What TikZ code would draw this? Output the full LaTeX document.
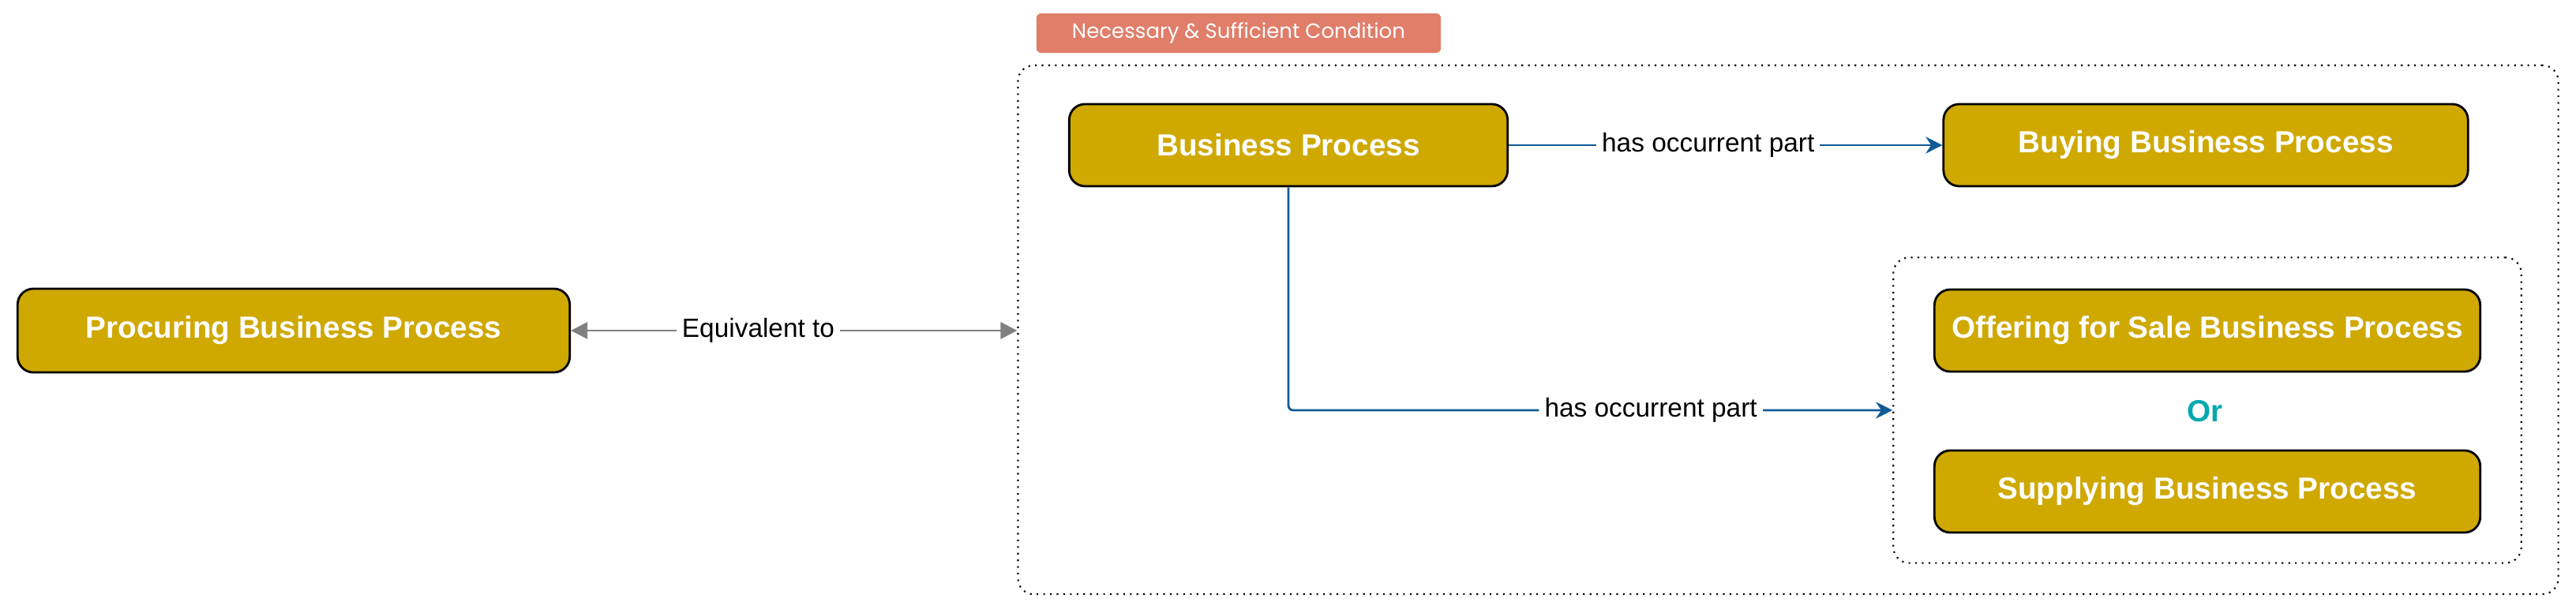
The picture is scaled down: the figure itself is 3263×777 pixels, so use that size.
\documentclass[tikz,border=0pt]{standalone}
\usepackage{fontspec}
\setmainfont{Liberation Sans}
\newfontfamily\tagfont{Poppins}
\usetikzlibrary{arrows.meta,positioning}
\definecolor{gold}{RGB}{207,168,0}
\definecolor{linkblue}{RGB}{16,90,150}
\definecolor{tagred}{RGB}{224,126,106}
\definecolor{orteal}{RGB}{0,168,176}
\tikzset{
  procbox/.style={draw=black, line width=0.8pt, fill=gold, rounded corners=0.2cm,
    text=white, font=\fontsize{11}{13}\selectfont\bfseries, align=center},
  condbox/.style={draw=black, line width=0.6pt, dash pattern=on 0.6pt off 1.8pt, rounded corners=0.2cm},
  linklabel/.style={fill=white, inner sep=2pt, font=\fontsize{9.5}{11}\selectfont, text=black},
  haspart/.style={draw=linkblue, line width=0.8pt, -{Stealth[length=6pt,width=6pt]}},
  equiv/.style={draw=gray, line width=0.8pt, {Triangle[length=6pt,width=6pt]}-{Triangle[length=6pt,width=6pt]}}
}
\begin{document}
\begin{tikzpicture}[x=0.01cm,y=-0.01cm]
  \useasboundingbox (0,0) rectangle (3263,777);

  % Condition boxes
  \node[condbox, minimum width=19.5cm, minimum height=6.7cm] (cond) at (2265,418) {};
  \node[condbox, minimum width=7.95cm, minimum height=3.87cm] (either) at (2796,520) {};
  \node[fill=tagred, rounded corners=0.06cm, minimum width=5.12cm, minimum height=0.46cm,
    text=white, font=\tagfont\fontsize{7.4}{9}\selectfont] (tag) at (1569,42) {Necessary \& Sufficient Condition};

  % Processes
  \node[procbox, minimum width=6.99cm, minimum height=1.06cm] (proc) at (372,419) {Procuring Business Process};
  \node[procbox, minimum width=5.55cm, minimum height=1.04cm] (bp) at (1632,184) {Business Process};
  \node[procbox, minimum width=6.64cm, minimum height=1.04cm] (buy) at (2794,184) {Buying Business Process};
  \node[procbox, minimum width=6.91cm, minimum height=1.04cm] (offer) at (2796,419) {Offering for Sale Business Process};
  \node[procbox, minimum width=6.91cm, minimum height=1.04cm] (supply) at (2796,623) {Supplying Business Process};
  \node[text=orteal, font=\fontsize{11}{13}\selectfont\bfseries] (or) at (2793,521) {Or};

  % Links
  \draw[equiv] (proc.east) -- node[linklabel, pos=0.42] {Equivalent to} (cond.west |- proc.east);
  \draw[haspart] (bp.east) -- node[linklabel, pos=0.46] {has occurrent part} (buy.west);
  \draw[haspart, rounded corners=0.06cm] (bp.south) |- node[linklabel, pos=0.8] {has occurrent part} (either.west);
\end{tikzpicture}
\end{document}
